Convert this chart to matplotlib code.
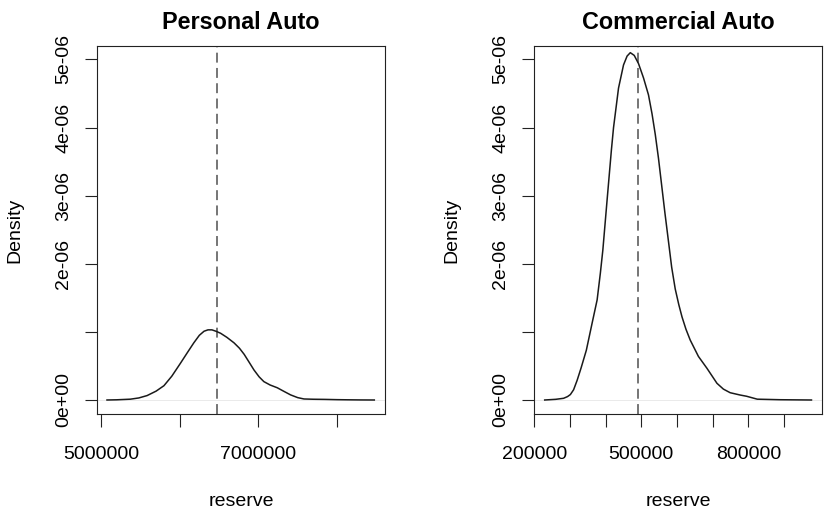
import numpy as np
import matplotlib.pyplot as plt

plt.rcParams['font.family'] = ['Liberation Sans', 'DejaVu Sans']

# density curves (density in units of 1e-6)
personal_x = [5076000, 5200000, 5373000, 5480000, 5586000, 5700000, 5800000, 5900000,
              6010000, 6100000, 6180000, 6250000, 6310000, 6360000, 6410000, 6460000,
              6520000, 6600000, 6690000, 6760000, 6820000, 6880000, 6945000, 7010000,
              7070000, 7150000, 7240000, 7320000, 7410000, 7500000, 7580000, 7700000,
              7840000, 8000000, 8130000, 8300000, 8474000]
personal_y = [0.0, 0.003, 0.012, 0.03, 0.065, 0.13, 0.21, 0.35,
              0.54, 0.70, 0.84, 0.95, 1.01, 1.03, 1.03, 1.01,
              0.98, 0.92, 0.84, 0.76, 0.67, 0.56, 0.44, 0.34,
              0.27, 0.22, 0.18, 0.13, 0.075, 0.035, 0.015, 0.011,
              0.009, 0.005, 0.003, 0.001, 0.0]

commercial_x = [229000, 260000, 282000, 293000, 301000, 310000, 320000, 331000,
                345700, 362000, 376000, 385000, 392000, 404000, 416000, 422000,
                436000, 450000, 460000, 469000, 480000, 492000, 506000, 520000,
                530000, 539000, 548000, 557000, 566000, 576000, 585000, 595000,
                605000, 614000, 625000, 637000, 660000, 684000, 712000, 730000,
                749000, 777000, 795000, 825000, 890000, 977000]
commercial_y = [0.0, 0.01, 0.025, 0.05, 0.08, 0.15, 0.29, 0.47,
                0.73, 1.13, 1.47, 1.86, 2.20, 2.94, 3.67, 4.00,
                4.58, 4.92, 5.05, 5.10, 5.06, 4.94, 4.73, 4.48,
                4.20, 3.90, 3.55, 3.15, 2.75, 2.33, 1.95, 1.63,
                1.40, 1.22, 1.04, 0.88, 0.64, 0.465, 0.245, 0.16,
                0.107, 0.073, 0.055, 0.012, 0.004, 0.0]

personal_ref = 6470000
commercial_ref = 490500

y_ticks = [0, 1e-6, 2e-6, 3e-6, 4e-6, 5e-6]
y_tick_labels = ['0e+00', '', '2e-06', '3e-06', '4e-06', '5e-06']

panels = [
    dict(title='Personal Auto', x=personal_x, y=personal_y, ref=personal_ref,
         xlim=(4949000, 8610000),
         xticks=[5000000, 6000000, 7000000, 8000000],
         xlabels=['5000000', '', '7000000', ''],
         pos=[97 / 838, 101 / 515, 288 / 838, 368 / 515]),
    dict(title='Commercial Auto', x=commercial_x, y=commercial_y, ref=commercial_ref,
         xlim=(199000, 1006500),
         xticks=list(range(200000, 900001, 100000)),
         xlabels=['200000', '', '', '500000', '', '', '800000', ''],
         pos=[534 / 838, 101 / 515, 288 / 838, 368 / 515]),
]

fig = plt.figure(figsize=(8.38, 5.15), dpi=100)

for p in panels:
    ax = fig.add_axes(p['pos'])
    ax.axhline(0, color='#e6e6e6', lw=0.6, zorder=1)
    ax.plot(p['x'], np.array(p['y']) * 1e-6, color='#1a1a1a', lw=1.1, zorder=3)
    ax.axvline(p['ref'], color='#505050', lw=1.1, linestyle=(0, (6.5, 3.5)), zorder=2)
    ax.set_xlim(*p['xlim'])
    ax.set_ylim(-0.2056e-6, 5.198e-6)
    ax.set_xticks(p['xticks'])
    ax.set_xticklabels(p['xlabels'])
    ax.set_yticks(y_ticks)
    ax.set_yticklabels(y_tick_labels, rotation=90, va='center')
    ax.tick_params(length=9, width=0.8, labelsize=14, color='#222222')
    ax.tick_params(axis='x', pad=14)
    ax.tick_params(axis='y', pad=9)
    for s in ax.spines.values():
        s.set_linewidth(0.8)
        s.set_color('#222222')
    ax.set_title(p['title'], fontsize=16.8, fontweight='bold', pad=12)
    ax.set_xlabel('reserve', fontsize=14, labelpad=22)
    ax.set_ylabel('Density', fontsize=14, labelpad=23)

fig.savefig('out.png', dpi=100)
